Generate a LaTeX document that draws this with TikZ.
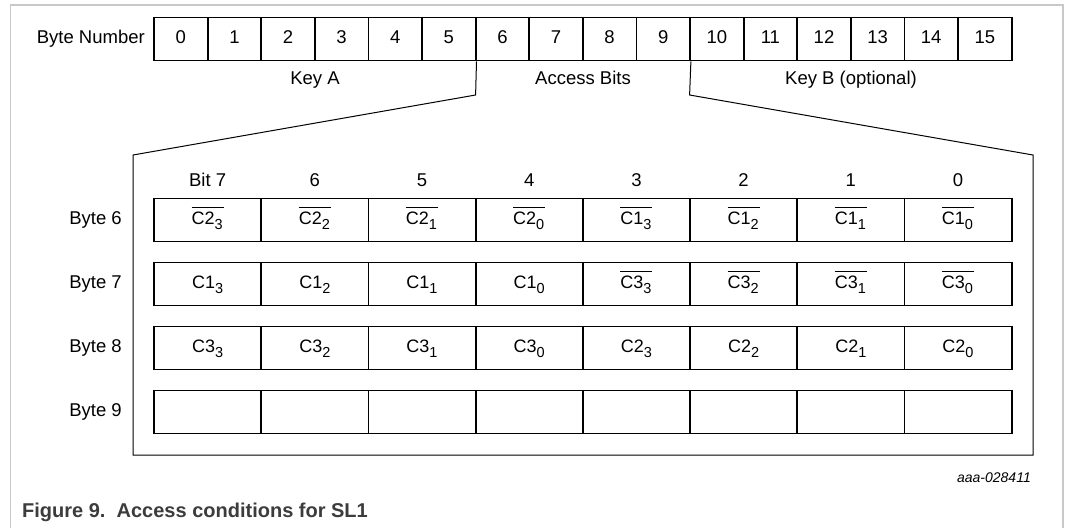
\documentclass[tikz,border=0pt]{standalone}
\usepackage{fontspec}
\setmainfont{Liberation Sans}
\usepackage{tikz}

\newcommand{\pbit}[2]{C#1\raisebox{-5pt}{\fontsize{14.5}{15}\selectfont #2}}
\newcommand{\nbit}[2]{\setbox0\hbox{\pbit{#1}{#2}\kern1pt}\rlap{\raisebox{16.5pt}{\rule{\wd0}{0.9pt}}}\box0}

\definecolor{framegray}{HTML}{C8C8C8}
\definecolor{captiongray}{HTML}{3C3C3C}

\tikzset{
  bytecell/.style={draw=black, line width=1.8pt, rectangle, minimum width=53.6pt, minimum height=43pt, inner sep=0pt, text height=13pt, text depth=4pt, font=\fontsize{18.5}{20}\selectfont},
  bitcell/.style={draw=black, line width=1.8pt, rectangle, minimum width=107.2pt, minimum height=43pt, inner sep=0pt, text height=13pt, text depth=4pt, font=\fontsize{18}{20}\selectfont},
  txt/.style={inner sep=0pt, text height=13pt, text depth=4pt, font=\fontsize{18.5}{20}\selectfont}
}

\begin{document}
\begin{tikzpicture}[x=1pt, y=-1pt]

            \useasboundingbox (0,0) rectangle (1066,528);
            \draw[framegray, line width=1.5pt] (10.5,528) -- (10.5,5) -- (1063,5) -- (1063,528);

            \node[txt, anchor=east] (bytenum) at (145,39) {Byte Number};
            \node[bytecell] (c0) at (180.8,39) {0};
            \node[bytecell] (c1) at (234.4,39) {1};
            \node[bytecell] (c2) at (288.0,39) {2};
            \node[bytecell] (c3) at (341.6,39) {3};
            \node[bytecell] (c4) at (395.2,39) {4};
            \node[bytecell] (c5) at (448.8,39) {5};
            \node[bytecell] (c6) at (502.4,39) {6};
            \node[bytecell] (c7) at (556.0,39) {7};
            \node[bytecell] (c8) at (609.6,39) {8};
            \node[bytecell] (c9) at (663.2,39) {9};
            \node[bytecell] (c10) at (716.8,39) {10};
            \node[bytecell] (c11) at (770.4,39) {11};
            \node[bytecell] (c12) at (824.0,39) {12};
            \node[bytecell] (c13) at (877.6,39) {13};
            \node[bytecell] (c14) at (931.2,39) {14};
            \node[bytecell] (c15) at (984.8,39) {15};

            \node[txt] (keya) at (315,80) {Key A};
            \node[txt] (access) at (583,80) {Access Bits};
            \node[txt] (keyb) at (851,80) {Key B (optional)};

            \coordinate (kneel) at (475.6,95);
            \coordinate (cornl) at (133,155);
            \coordinate (bottl) at (133,455);
            \coordinate (bottr) at (1033,455);
            \coordinate (cornr) at (1033,155);
            \coordinate (kneer) at (689.6,95);
            \draw[black, line width=1pt] (c5.south east) -- (kneel) -- (cornl) -- (bottl) -- (bottr) -- (cornr) -- (kneer) -- (c9.south east);

            \node[txt] (b7) at (207.6,182) {Bit 7};
            \node[txt] (b6) at (314.8,182) {6};
            \node[txt] (b5) at (422.0,182) {5};
            \node[txt] (b4) at (529.2,182) {4};
            \node[txt] (b3) at (636.4,182) {3};
            \node[txt] (b2) at (743.6,182) {2};
            \node[txt] (b1) at (850.8,182) {1};
            \node[txt] (b0) at (958.0,182) {0};

            \node[txt, anchor=east] (byte6) at (122,220) {Byte 6};
            \node[bitcell] (r6c7) at (207.6,220) {\nbit{2}{3}};
            \node[bitcell] (r6c6) at (314.8,220) {\nbit{2}{2}};
            \node[bitcell] (r6c5) at (422.0,220) {\nbit{2}{1}};
            \node[bitcell] (r6c4) at (529.2,220) {\nbit{2}{0}};
            \node[bitcell] (r6c3) at (636.4,220) {\nbit{1}{3}};
            \node[bitcell] (r6c2) at (743.6,220) {\nbit{1}{2}};
            \node[bitcell] (r6c1) at (850.8,220) {\nbit{1}{1}};
            \node[bitcell] (r6c0) at (958.0,220) {\nbit{1}{0}};

            \node[txt, anchor=east] (byte7) at (122,284) {Byte 7};
            \node[bitcell] (r7c7) at (207.6,284) {\pbit{1}{3}};
            \node[bitcell] (r7c6) at (314.8,284) {\pbit{1}{2}};
            \node[bitcell] (r7c5) at (422.0,284) {\pbit{1}{1}};
            \node[bitcell] (r7c4) at (529.2,284) {\pbit{1}{0}};
            \node[bitcell] (r7c3) at (636.4,284) {\nbit{3}{3}};
            \node[bitcell] (r7c2) at (743.6,284) {\nbit{3}{2}};
            \node[bitcell] (r7c1) at (850.8,284) {\nbit{3}{1}};
            \node[bitcell] (r7c0) at (958.0,284) {\nbit{3}{0}};

            \node[txt, anchor=east] (byte8) at (122,348) {Byte 8};
            \node[bitcell] (r8c7) at (207.6,348) {\pbit{3}{3}};
            \node[bitcell] (r8c6) at (314.8,348) {\pbit{3}{2}};
            \node[bitcell] (r8c5) at (422.0,348) {\pbit{3}{1}};
            \node[bitcell] (r8c4) at (529.2,348) {\pbit{3}{0}};
            \node[bitcell] (r8c3) at (636.4,348) {\pbit{2}{3}};
            \node[bitcell] (r8c2) at (743.6,348) {\pbit{2}{2}};
            \node[bitcell] (r8c1) at (850.8,348) {\pbit{2}{1}};
            \node[bitcell] (r8c0) at (958.0,348) {\pbit{2}{0}};

            \node[txt, anchor=east] (byte9) at (122,412) {Byte 9};
            \node[bitcell] (r9c7) at (207.6,412) {};
            \node[bitcell] (r9c6) at (314.8,412) {};
            \node[bitcell] (r9c5) at (422.0,412) {};
            \node[bitcell] (r9c4) at (529.2,412) {};
            \node[bitcell] (r9c3) at (636.4,412) {};
            \node[bitcell] (r9c2) at (743.6,412) {};
            \node[bitcell] (r9c1) at (850.8,412) {};
            \node[bitcell] (r9c0) at (958.0,412) {};

            \node[inner sep=0pt, anchor=east, font=\fontsize{14}{15}\selectfont\itshape] (docid) at (1031,478) {aaa-028411};
            \node[inner sep=0pt, anchor=west, text=captiongray, font=\fontsize{20}{22}\selectfont\bfseries] (caption) at (22,512) {Figure 9.\ \ Access conditions for SL1};

        \end{tikzpicture}
\end{document}
